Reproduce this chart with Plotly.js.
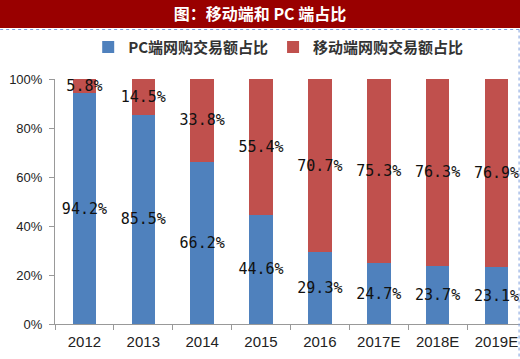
<!DOCTYPE html>
<html>
<head>
<meta charset="utf-8">
<script src="https://cdn.plot.ly/plotly-3.0.1.min.js"></script>
<style>html,body{margin:0;padding:0;background:#fff;}#chart{width:520px;height:359px;}</style>
</head>
<body>
<div id="chart"></div>
<script>
const categories = ['2012', '2013', '2014', '2015', '2016', '2017E', '2018E', '2019E'];
const pcShare = [94.2, 85.5, 66.2, 44.6, 29.3, 24.7, 23.7, 23.1];
const mobileShare = [5.8, 14.5, 33.8, 55.4, 70.7, 75.3, 76.3, 76.9];
const yTicks = [0, 20, 40, 60, 80, 100];
const yTickLabels = yTicks.map(v => v + '%');

const labelFont = {family: 'DejaVu Sans Mono, Liberation Mono, monospace', size: 15, color: '#111'};
const common = {
  type: 'bar', x: categories, width: 0.4,
  texttemplate: '%{y:.1f}%', textposition: 'inside', insidetextanchor: 'middle',
  textangle: 0, constraintext: 'none', cliponaxis: false,
  textfont: labelFont, insidetextfont: labelFont, hoverinfo: 'skip'
};
const traces = [
  Object.assign({}, common, {name: 'PC端网购交易额占比', y: pcShare, marker: {color: '#4F81BD'}}),
  Object.assign({}, common, {name: '移动端网购交易额占比', y: mobileShare, marker: {color: '#C0504D'}})
];

const layout = {
  width: 520, height: 359,
  margin: {l: 55, r: 0, t: 79, b: 35, autoexpand: false},
  paper_bgcolor: '#fff', plot_bgcolor: '#fff',
  barmode: 'stack',
  title: {text: '<b>图：移动端和 PC 端占比</b>', x: 0.5, xanchor: 'center', xref: 'container',
          y: 0.961, yanchor: 'middle', yref: 'container', automargin: false,
          font: {family: 'Noto Sans CJK SC, sans-serif', size: 16, color: '#ffffff'}},
  showlegend: true,
  legend: {orientation: 'h', x: 0.48, xanchor: 'center', y: 1.13, yanchor: 'middle',
           font: {family: 'Noto Sans CJK SC, sans-serif', size: 15, color: '#333', weight: 'bold'},
           itemwidth: 30, traceorder: 'normal', bgcolor: 'rgba(0,0,0,0)'},
  xaxis: {type: 'category', range: [-0.5, 7.4], automargin: false, showline: true, linecolor: '#999', linewidth: 1,
          ticks: 'outside', ticklen: 5, tickcolor: '#999', tickson: 'boundaries',
          showgrid: false, zeroline: false, ticklabelstandoff: 4,
          tickfont: {family: 'Liberation Sans, Arial, sans-serif', size: 15, color: '#222'}},
  yaxis: {range: [0, 100], automargin: false, tickmode: 'array', tickvals: yTicks, ticktext: yTickLabels,
          showline: true, linecolor: '#999', linewidth: 1,
          ticks: 'outside', ticklen: 5, tickcolor: '#999', showgrid: false, zeroline: false,
          ticklabelstandoff: 4,
          tickfont: {family: 'Liberation Sans, Arial, sans-serif', size: 13, color: '#222'}},
  shapes: [
    {type: 'rect', xref: 'paper', yref: 'paper', x0: -0.2, x1: 1.05, y0: 1.208, y1: 1.4,
     fillcolor: '#990000', line: {width: 0}, layer: 'below'},
    {type: 'line', xref: 'paper', yref: 'paper', x0: -0.118, x1: 1, y0: 1.202, y1: 1.202,
     line: {color: '#7f9fdc', width: 1, dash: 'dot'}},
    {type: 'line', xref: 'paper', yref: 'paper', x0: 0.998, x1: 0.998, y0: 1.202, y1: -0.15,
     line: {color: '#7f9fdc', width: 1, dash: 'dot'}}
  ]
};

Plotly.newPlot('chart', traces, layout, {displayModeBar: false, staticPlot: true});
</script>
</body>
</html>
